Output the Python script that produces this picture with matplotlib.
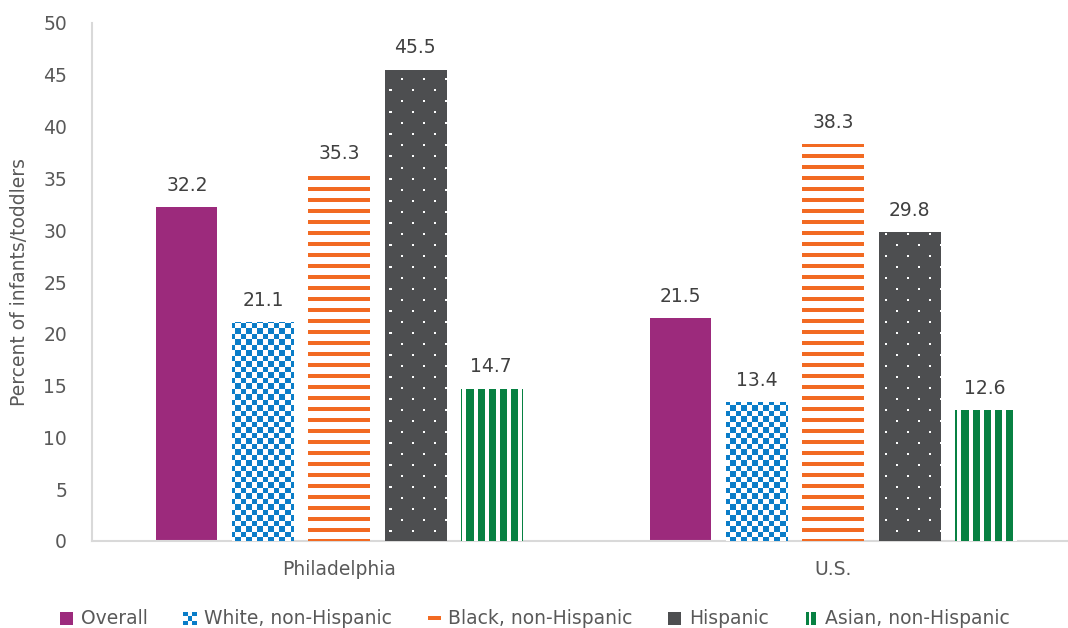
import numpy as np
import matplotlib
matplotlib.use("Agg")
import matplotlib.pyplot as plt
from matplotlib.patches import Rectangle
from matplotlib.legend_handler import HandlerBase

places = ["Philadelphia", "U.S."]
groups = ["Overall", "White, non-Hispanic", "Black, non-Hispanic",
          "Hispanic", "Asian, non-Hispanic"]
overall = [32.2, 21.5]
white = [21.1, 13.4]
black = [35.3, 38.3]
hispanic = [45.5, 29.8]
asian = [14.7, 12.6]

colors = ["#9C2A7C", "#0A7DC8", "#F26A22", "#4D4E50", "#078142"]
fills = ["solid", "checker", "hstripe", "dots", "vstripe"]

plt.rcParams["font.family"] = ["DejaVu Sans"]
text_grey = "#595959"
fs = 13.5

W, H, DPI = 1068, 628, 100
fig = plt.figure(figsize=(W / DPI, H / DPI), dpi=DPI)
ax_l, ax_r, ax_t, ax_b = 92, 1080, 23, 541
ax = fig.add_axes([ax_l / W, 1 - ax_b / H, (ax_r - ax_l) / W, (ax_b - ax_t) / H])
ax.set_xlim(-0.5, 1.5)
ax.set_ylim(0, 50)

# pixel-sized pattern images, one per fill style, covering the whole axes
pw, ph = ax_r - ax_l, ax_b - ax_t
jj, ii = np.meshgrid(np.arange(pw), np.arange(ph))
gy = ax_b - ii  # distance from the bottom of the figure, keeps rows aligned to the baseline


def pattern(kind, color):
    rgb = np.array(matplotlib.colors.to_rgb(color))
    white_bg = np.ones(3)
    if kind == "checker":
        mask = ((np.floor(jj / 5.5) + np.floor(gy / 5.5)) % 2) == 0
    elif kind == "hstripe":
        mask = (gy % 11) < 4
    elif kind == "vstripe":
        mask = (jj % 11) < 7
    elif kind == "dots":
        row = gy // 11
        dot = ((gy % 11) < 2) & (((jj + (row % 2) * 11) % 22) < 2)
        mask = ~dot
    else:
        mask = np.ones_like(jj, dtype=bool)
    img = np.where(mask[..., None], rgb, white_bg)
    return img


series = [overall, white, black, hispanic, asian]
x = np.arange(len(places))
width = 0.1235
step = 0.154
for k, (vals, col, kind) in enumerate(zip(series, colors, fills)):
    pos = x + (k - 2) * step
    bars = ax.bar(pos, vals, width, color=col, linewidth=0, zorder=2)
    if kind != "solid":
        img = pattern(kind, col)
        for b in bars:
            im = ax.imshow(img, extent=(-0.5, 1.5, 0, 50), origin="upper",
                           interpolation="nearest", aspect="auto", zorder=3)
            im.set_clip_path(b)
    for p, v in zip(pos, vals):
        ax.annotate(f"{v:.1f}", (p, v), xytext=(0, 9), textcoords="offset points",
                    ha="center", va="bottom", fontsize=fs, color="#404040")
ax.set_xlim(-0.5, 1.5)
ax.set_ylim(0, 50)

ax.set_xticks(x)
ax.set_xticklabels(places)
ax.set_yticks(range(0, 51, 5))
ax.tick_params(axis="both", length=0, labelsize=fs, labelcolor=text_grey)
ax.tick_params(axis="y", pad=18)
ax.tick_params(axis="x", pad=14)
ax.set_ylabel("Percent of infants/toddlers", fontsize=fs, color=text_grey, labelpad=10)
for s in ["top", "right"]:
    ax.spines[s].set_visible(False)
for s in ["left", "bottom"]:
    ax.spines[s].set_color("#D9D9D9")
    ax.spines[s].set_linewidth(1.5)


class PatternHandler(HandlerBase):
    def __init__(self, kind, color):
        super().__init__()
        self.kind, self.color = kind, color

    def create_artists(self, legend, orig_handle, xd, yd, w, h, fontsize, trans):
        s = h * 1.0
        x0, y0 = -xd + (w - s) / 2, -yd + (h - s) / 2 - 1
        c = self.color
        out = []
        if self.kind == "solid" or self.kind == "dots":
            out.append(Rectangle((x0, y0), s, s, fc=c, ec="none"))
        elif self.kind == "checker":
            d = s / 3
            for a in range(3):
                for b in range(3):
                    if (a + b) % 2 == 0:
                        out.append(Rectangle((x0 + a * d, y0 + b * d), d, d, fc=c, ec="none"))
        elif self.kind == "hstripe":
            out.append(Rectangle((x0, y0 + s * 0.35), s, s * 0.3, fc=c, ec="none"))
        elif self.kind == "vstripe":
            out.append(Rectangle((x0 + s * 0.15, y0), s * 0.2, s, fc=c, ec="none"))
            out.append(Rectangle((x0 + s * 0.55, y0), s * 0.35, s, fc=c, ec="none"))
        for a in out:
            a.set_transform(trans)
        return out


handles = [Rectangle((0, 0), 1, 1) for _ in groups]
hmap = {h: PatternHandler(k, c) for h, k, c in zip(handles, fills, colors)}
fig.legend(handles, groups, handler_map=hmap, loc="center", bbox_to_anchor=(0.5, 1 - 618 / H),
           ncol=5, frameon=False, fontsize=fs, labelcolor=text_grey,
           handlelength=0.9, handletextpad=0.3, columnspacing=1.8)

fig.savefig("out.png", dpi=DPI)
